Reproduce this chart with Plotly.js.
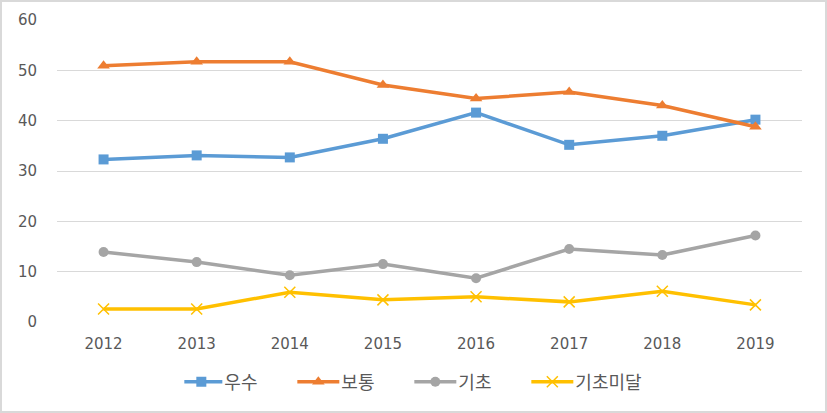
<!DOCTYPE html>
<html>
<head>
<meta charset="utf-8">
<script src="https://cdn.plot.ly/plotly-3.0.1.min.js"></script>
<style>
html,body{margin:0;padding:0;background:#fff;}
#wrap{width:827px;height:413px;box-sizing:border-box;border:2px solid #d9d9d9;background:#fff;}
#chart{width:823px;height:409px;}
</style>
</head>
<body>
<div id="wrap"><div id="chart"></div></div>
<script>
const years = ['2012','2013','2014','2015','2016','2017','2018','2019'];
const excellent = [32.3, 33.1, 32.7, 36.4, 41.6, 35.2, 37.0, 40.2];   // 우수
const average = [50.9, 51.7, 51.7, 47.1, 44.4, 45.7, 43.0, 38.8];     // 보통
const basic = [13.9, 11.9, 9.3, 11.5, 8.7, 14.5, 13.3, 17.2];         // 기초
const belowBasic = [2.6, 2.6, 5.9, 4.4, 5.0, 4.0, 6.1, 3.4];          // 기초미달
const seriesNames = ['우수', '보통', '기초', '기초미달'];
const yTicks = [0, 10, 20, 30, 40, 50, 60];

const colors = ['#5B9BD5', '#ED7D31', '#A5A5A5', '#FFC000'];
const symbols = ['square', 'triangle-up', 'circle', 'x-thin'];
const sizes = [10, 11, 10, 11];
const data = [excellent, average, basic, belowBasic].map((vals, i) => ({
  type: 'scatter',
  mode: 'lines+markers',
  name: seriesNames[i],
  x: years,
  y: vals,
  line: {color: colors[i], width: 3.5},
  marker: {symbol: symbols[i], size: sizes[i], color: colors[i],
           line: {color: colors[i], width: i === 3 ? 1.5 : 0}}
}));

const tickFont = {family: '"DejaVu Sans", sans-serif', size: 15, color: '#595959'};
const layout = {
  width: 823, height: 409,
  margin: {l: 55, r: 23, t: 18, b: 88},
  paper_bgcolor: '#ffffff',
  plot_bgcolor: '#ffffff',
  font: tickFont,
  showlegend: true,
  legend: {orientation: 'h', x: 0.485, xanchor: 'center', y: -0.195, yanchor: 'middle',
           entrywidth: 72, entrywidthmode: 'pixels',
           font: {family: '"Noto Sans CJK KR", sans-serif', size: 18, color: '#595959'}, traceorder: 'normal'},
  xaxis: {type: 'category', range: [-0.5, 7.5], showgrid: false, zeroline: false,
          showline: false, ticks: '', tickfont: tickFont, ticklabelstandoff: 11, fixedrange: true},
  yaxis: {range: [0, 60], tickvals: yTicks, showgrid: true, gridcolor: '#d9d9d9', gridwidth: 1,
          zeroline: false, showline: false, ticks: '', tickfont: tickFont, ticklabelstandoff: 19, fixedrange: true}
};
Plotly.newPlot('chart', data, layout, {displayModeBar: false, staticPlot: true}).then(() => {
  document.querySelectorAll('#chart .legend .legendlines path').forEach(p => p.setAttribute('d', 'M-4,0h42'));
  document.querySelectorAll('#chart .legend .legendpoints path').forEach(p => {
    const t = p.getAttribute('transform') || '';
    p.setAttribute('transform', t.replace(/translate\(([-\d.]+)/, (m, a) => 'translate(' + (parseFloat(a) - 3)));
  });
});
</script>
</body>
</html>
